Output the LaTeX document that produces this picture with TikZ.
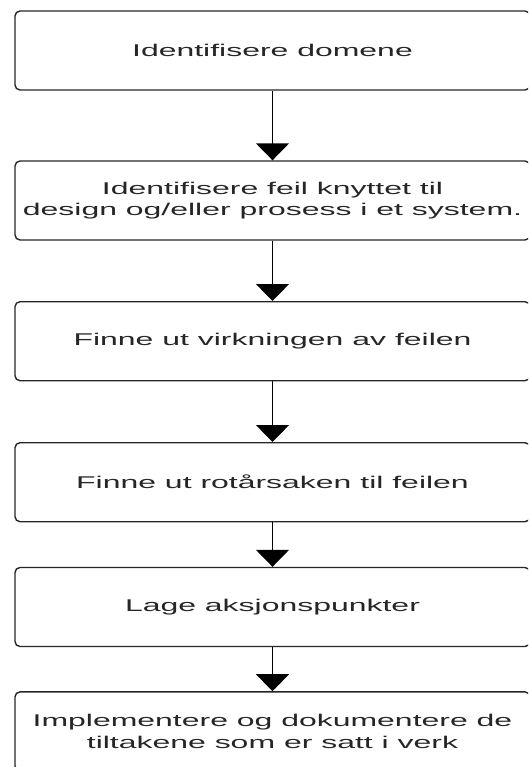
\documentclass[tikz,border=0pt]{standalone}
\usepackage{fontspec}
\newfontfamily\stepfont[FakeStretch=1.88]{Liberation Sans}
\usetikzlibrary{arrows.meta}
\begin{document}
\begin{tikzpicture}[x=1pt,y=-1pt,
  stepbox/.style={draw=black!85,line width=1.4pt,rounded corners=5pt,
    minimum width=515pt,minimum height=79pt,inner sep=0pt,
    align=center,text=black!85,
    font=\stepfont\fontsize{17}{21.5}\selectfont},
  flow/.style={line width=1.5pt,-{Triangle[width=33pt,length=17pt]}}]
  % the boxes run past the right edge and the bottom; cut them off there
  \clip (0,0) rectangle (528,767);
  \node[stepbox] (s1) at (272.5,50.5) {Identifisere domene};
  \node[stepbox] (s2) at (272.5,200.5) {Identifisere feil knyttet til\\design og/eller prosess i et system.};
  \node[stepbox] (s3) at (272.5,341.2) {Finne ut virkningen av feilen};
  \node[stepbox] (s4) at (272.5,482.2) {Finne ut rotårsaken til feilen};
  \node[stepbox] (s5) at (272.5,607.0) {Lage aksjonspunkter};
  \node[stepbox] (s6) at (272.5,731.4) {Implementere og dokumentere de\\tiltakene som er satt i verk};
  \draw[flow] (s1) -- (s2);
  \draw[flow] (s2) -- (s3);
  \draw[flow] (s3) -- (s4);
  \draw[flow] (s4) -- (s5);
  \draw[flow] (s5) -- (s6);
\end{tikzpicture}
\end{document}
